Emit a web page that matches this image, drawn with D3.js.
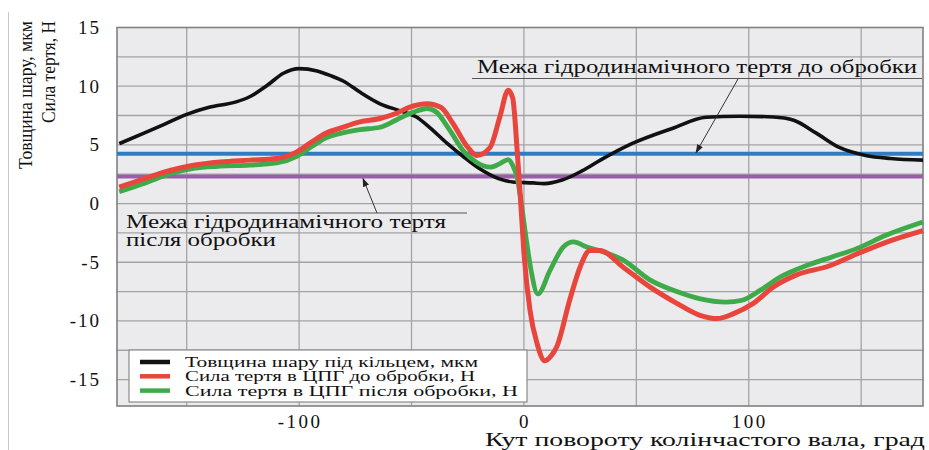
<!DOCTYPE html>
<html>
<head>
<meta charset="utf-8">
<script src="https://cdn.jsdelivr.net/npm/d3@7"></script>
<style>
  html, body { margin: 0; padding: 0; background: #fff; }
  svg { display: block; }
  text { font-family: "Liberation Serif", "Times New Roman", serif; fill: #111; }
</style>
</head>
<body>
<svg id="chart" width="929" height="450"></svg>
<script>
// Crank angle, degrees, and layer thickness under the ring, µm
const thicknessAngle = [-180,-169,-160,-150,-140,-128,-122,-114,-107,-100,-92,-86,-80,-73,-64,-55,-48,-42,-34,-27,-20,-11,-5,4,9,17,26,34,48,66,81,96,111,120,130,140,152,163,177.5];
const thicknessValue = [5.1,6.0,6.75,7.6,8.2,8.66,9.1,10.1,11.1,11.5,11.3,10.9,10.4,9.5,8.5,7.9,7.4,6.5,5.1,4.0,3.0,2.1,1.84,1.76,1.7,2.0,2.8,3.7,5.1,6.4,7.35,7.44,7.38,7.1,6.0,4.8,4.1,3.84,3.7];

// Friction force in the cylinder-piston group before treatment, N
const frictionBeforeAngle = [-180,-169,-157,-147,-135,-122,-110,-101,-94,-88,-82,-73,-64,-57,-51,-43,-37,-31.5,-25,-21,-15,-10.7,-7,-5,-3,-1.5,0,2.7,5.8,9.3,12,14.6,20.4,25,29.3,33.8,44,56,68,78,86,93,102,111,121,136,148,161,177.5];
const frictionBeforeValue = [1.4,2.1,2.84,3.27,3.55,3.7,3.84,4.4,5.3,6.0,6.4,6.96,7.25,7.67,8.2,8.5,8.2,6.8,4.8,4.1,4.8,7.4,9.66,9.0,4.5,0.3,-4.2,-9.1,-11.9,-13.4,-13.0,-12.2,-8.2,-5.4,-4.0,-4.0,-5.4,-7.1,-8.5,-9.5,-9.8,-9.4,-8.5,-7.1,-6.1,-5.3,-4.3,-3.3,-2.3];

// Friction force in the cylinder-piston group after treatment, N
const frictionAfterAngle = [-180,-169,-157,-147,-135,-122,-110,-101,-94,-88,-82,-73,-64,-57,-49,-43,-39,-33,-27,-21,-15,-10.7,-7,-5,-3,-1,1,3,6.2,11.6,17.5,22,28,35,44,56,68,78,90,97,105,114,126,137,148,161,177.5];
const frictionAfterValue = [1.0,1.7,2.56,3.0,3.18,3.27,3.46,4.03,4.9,5.6,5.96,6.3,6.5,7.1,7.8,8.1,7.8,6.25,4.5,3.5,3.1,3.4,3.75,3.26,2.2,-0.2,-3.0,-5.5,-7.7,-5.7,-3.7,-3.27,-3.7,-4.1,-4.8,-6.5,-7.5,-8.1,-8.4,-8.24,-7.4,-6.26,-5.26,-4.55,-3.84,-2.7,-1.57];

// Hydrodynamic friction limits
const limitBefore = 4.25;
const limitAfter = 2.3;

const xTicks = [-100, 0, 100];
const xGrid = [-150, -100, -50, 0, 50, 100, 150];
const yTicks = [15, 10, 5, 0, -5, -10, -15];
const yGrid = [12.5, 10, 7.5, 5, 2.5, 0, -2.5, -5, -7.5, -10, -12.5, -15];

const seriesNames = [
  "Товщина шару під кільцем, мкм",
  "Сила тертя в ЦПГ до обробки, Н",
  "Сила тертя в ЦПГ після обробки, Н"
];
const seriesColors = ["#111111", "#e8453c", "#3faa4a"];
const yTitleLines = ["Товщина шару, мкм", "Сила тертя, Н"];
const xTitle = "Кут повороту колінчастого вала, град";
const noteBefore = "Межа гідродинамічного тертя до обробки";
const noteAfter = ["Межа гідродинамічного тертя", "після обробки"];

const svg = d3.select("#chart");
const L = 117, R = 923, T = 27.5, B = 406;

const x = d3.scaleLinear().domain([-181, 177.5]).range([L, R]);
const y = d3.scaleLinear().domain([-17.25, 15]).range([B, T]);

// image edge line
svg.append("line").attr("x1", 8.5).attr("x2", 8.5).attr("y1", 12).attr("y2", 450)
  .attr("stroke", "#c8c8c8").attr("stroke-width", 1);

// plot background
svg.append("rect").attr("x", L).attr("y", T).attr("width", R - L).attr("height", B - T)
  .attr("fill", "#ebebed");

const grid = svg.append("g").attr("stroke", "#a4a4a6").attr("stroke-width", 1.3);
grid.selectAll(".gx").data(xGrid).join("line")
  .attr("x1", d => x(d)).attr("x2", d => x(d)).attr("y1", T).attr("y2", B);
grid.selectAll(".gy").data(yGrid).join("line")
  .attr("x1", L).attr("x2", R).attr("y1", d => y(d)).attr("y2", d => y(d));

// frame
svg.append("rect").attr("x", L).attr("y", T).attr("width", R - L).attr("height", B - T)
  .attr("fill", "none").attr("stroke", "#808082").attr("stroke-width", 1.6);

// limit lines
svg.append("line").attr("x1", L).attr("x2", R).attr("y1", y(limitBefore)).attr("y2", y(limitBefore))
  .attr("stroke", "#2e7dc4").attr("stroke-width", 4);
svg.append("line").attr("x1", L).attr("x2", R).attr("y1", y(limitAfter)).attr("y2", y(limitAfter))
  .attr("stroke", "#9a5ea8").attr("stroke-width", 4);

const line = d3.line().x(d => x(d[0])).y(d => y(d[1])).curve(d3.curveMonotoneX);
const zip = (a, b) => a.map((v, i) => [v, b[i]]);

const plot = svg.append("g");
plot.append("path").datum(zip(thicknessAngle, thicknessValue)).attr("d", line)
  .attr("fill", "none").attr("stroke", seriesColors[0]).attr("stroke-width", 3.6).attr("stroke-linejoin", "round");
plot.append("path").datum(zip(frictionAfterAngle, frictionAfterValue)).attr("d", line)
  .attr("fill", "none").attr("stroke", seriesColors[2]).attr("stroke-width", 4.8).attr("stroke-linejoin", "round");
plot.append("path").datum(zip(frictionBeforeAngle, frictionBeforeValue)).attr("d", line)
  .attr("fill", "none").attr("stroke", seriesColors[1]).attr("stroke-width", 5).attr("stroke-linejoin", "round");

// y tick labels
svg.append("g").selectAll("text").data(yTicks).join("text")
  .attr("x", 101).attr("y", d => y(d) + 6.5)
  .attr("text-anchor", "end").attr("font-size", 19).attr("letter-spacing", 2)
  .text(d => d);

// x tick labels
svg.append("g").selectAll("text").data(xTicks).join("text")
  .attr("x", d => x(d) + 1).attr("y", 428)
  .attr("text-anchor", "middle").attr("font-size", 19).attr("letter-spacing", 2.5)
  .text(d => d);

// axis titles
svg.append("text").attr("x", 925).attr("y", 446).attr("text-anchor", "end")
  .attr("font-size", 18).attr("textLength", 440).attr("lengthAdjust", "spacingAndGlyphs")
  .text(xTitle);

const yt = svg.append("g").attr("transform", "translate(0,21) rotate(-90)");
yt.append("text").attr("x", 0).attr("y", 32).attr("text-anchor", "end")
  .attr("font-size", 19).attr("textLength", 148).attr("lengthAdjust", "spacingAndGlyphs")
  .text(yTitleLines[0]);
yt.append("text").attr("x", 0).attr("y", 55).attr("text-anchor", "end")
  .attr("font-size", 19).attr("textLength", 102).attr("lengthAdjust", "spacingAndGlyphs")
  .text(yTitleLines[1]);

// arrow marker
svg.append("defs").append("marker").attr("id", "arr")
  .attr("viewBox", "0 0 10 10").attr("refX", 9).attr("refY", 5)
  .attr("markerWidth", 9).attr("markerHeight", 9).attr("orient", "auto")
  .append("path").attr("d", "M0,1.5 L10,5 L0,8.5 Z").attr("fill", "#222");

// note: limit before treatment
svg.append("text").attr("x", 477).attr("y", 73).attr("font-size", 18)
  .attr("textLength", 440).attr("lengthAdjust", "spacingAndGlyphs").text(noteBefore);
svg.append("line").attr("x1", 472).attr("x2", 922).attr("y1", 78.5).attr("y2", 78.5)
  .attr("stroke", "#555").attr("stroke-width", 1.2);
svg.append("line").attr("x1", 738).attr("y1", 79).attr("x2", 696).attr("y2", y(limitBefore) - 1)
  .attr("stroke", "#333").attr("stroke-width", 1).attr("marker-end", "url(#arr)");

// note: limit after treatment
svg.append("line").attr("x1", 138).attr("x2", 467).attr("y1", 213).attr("y2", 213)
  .attr("stroke", "#555").attr("stroke-width", 1.2);
svg.append("line").attr("x1", 377).attr("y1", 213).attr("x2", 363).attr("y2", y(limitAfter) + 2)
  .attr("stroke", "#333").attr("stroke-width", 1).attr("marker-end", "url(#arr)");
svg.append("text").attr("x", 126).attr("y", 228).attr("font-size", 18)
  .attr("textLength", 320).attr("lengthAdjust", "spacingAndGlyphs").text(noteAfter[0]);
svg.append("text").attr("x", 126).attr("y", 246).attr("font-size", 18)
  .attr("textLength", 150).attr("lengthAdjust", "spacingAndGlyphs").text(noteAfter[1]);

// legend
const lg = svg.append("g");
lg.append("rect").attr("x", 129).attr("y", 350).attr("width", 398).attr("height", 52)
  .attr("fill", "#fff").attr("stroke", "#8a8a8a").attr("stroke-width", 1.2);
const legendWidths = [293, 290, 333];
seriesNames.forEach((name, i) => {
  const cy = 362 + i * 14.3;
  lg.append("line").attr("x1", 140).attr("x2", 170).attr("y1", cy).attr("y2", cy)
    .attr("stroke", seriesColors[i]).attr("stroke-width", 4.5);
  lg.append("text").attr("x", 185).attr("y", cy + 5).attr("font-size", 15.5)
    .attr("textLength", legendWidths[i]).attr("lengthAdjust", "spacingAndGlyphs").text(name);
});
</script>
</body>
</html>
